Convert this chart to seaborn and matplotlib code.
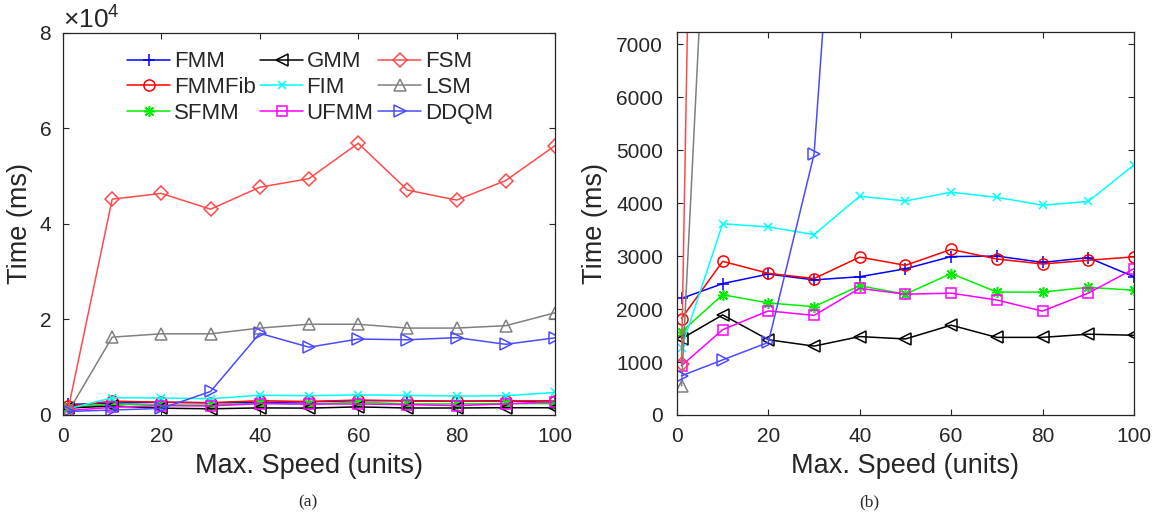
import matplotlib
matplotlib.use("Agg")
import matplotlib.pyplot as plt
import pandas as pd
import seaborn as sns
from matplotlib.ticker import ScalarFormatter, MultipleLocator

# Maximum agent speed (units)
speed = [1, 10, 20, 30, 40, 50, 60, 70, 80, 90, 100]

# Running time (ms) per method
fmm    = [2200, 2480, 2660, 2550, 2610, 2760, 2990, 3000, 2880, 2970, 2610]
fmmfib = [1820, 2900, 2675, 2575, 2980, 2825, 3125, 2945, 2850, 2920, 2985]
sfmm   = [1570, 2270, 2115, 2045, 2440, 2280, 2670, 2320, 2320, 2410, 2355]
gmm    = [1440, 1890, 1420, 1300, 1480, 1435, 1695, 1465, 1465, 1525, 1505]
fim    = [1270, 3610, 3550, 3405, 4130, 4040, 4205, 4110, 3960, 4030, 4720]
ufmm   = [930, 1610, 1965, 1880, 2390, 2280, 2300, 2170, 1960, 2300, 2760]
fsm    = [960, 45200, 46400, 43100, 47700, 49500, 56900, 47100, 45000, 49100, 56400]
lsm    = [550, 16300, 17000, 17000, 18200, 19000, 19000, 18200, 18200, 18700, 21400]
ddqm   = [740, 1040, 1370, 4920, 17100, 14200, 15900, 15750, 16200, 14800, 16150]

methods = ["FMM", "FMMFib", "SFMM", "GMM", "FIM", "UFMM", "FSM", "LSM", "DDQM"]
series = [fmm, fmmfib, sfmm, gmm, fim, ufmm, fsm, lsm, ddqm]

styles = {
    "FMM":    dict(color="#0000ff", marker="+", ms=9),
    "FMMFib": dict(color="#ff0000", marker="o", ms=8),
    "SFMM":   dict(color="#00ee00", marker=(8, 2, 0), ms=8),
    "GMM":    dict(color="#000000", marker="<", ms=9),
    "FIM":    dict(color="#00ffff", marker="x", ms=6),
    "UFMM":   dict(color="#ff00ff", marker="s", ms=7),
    "FSM":    dict(color="#ff4a4a", marker="D", ms=7),
    "LSM":    dict(color="#808080", marker="^", ms=9),
    "DDQM":   dict(color="#4a4aff", marker=">", ms=9),
}

df = pd.concat(
    [pd.DataFrame({"speed": speed, "time": vals, "method": name})
     for name, vals in zip(methods, series)],
    ignore_index=True,
)

sns.set_style("ticks")
plt.rcParams["font.family"] = ["Liberation Sans", "DejaVu Sans"]
plt.rcParams["mathtext.fontset"] = "custom"
plt.rcParams["mathtext.rm"] = "Liberation Sans"
plt.rcParams["mathtext.it"] = "Liberation Sans:italic"

fig = plt.figure(figsize=(11.56, 5.21), dpi=100)
ax_a = fig.add_axes([0.0545, 0.2035, 0.4256, 0.7332])
ax_b = fig.add_axes([0.5856, 0.2035, 0.3953, 0.7351])

edge = "#262626"

for ax in (ax_a, ax_b):
    for name in methods:
        st = styles[name]
        sub = df[df["method"] == name]
        sns.lineplot(
            data=sub, x="speed", y="time", ax=ax, label=name,
            color=st["color"], marker=st["marker"], markersize=st["ms"],
            markerfacecolor="none", markeredgecolor=st["color"],
            markeredgewidth=1.1, linewidth=1.1, legend=False,
            clip_on=True,
        )
    ax.set_xlim(0, 100)
    ax.xaxis.set_major_locator(MultipleLocator(20))
    ax.set_xlabel("Max. Speed (units)", fontsize=19.5, color=edge, labelpad=5)
    ax.tick_params(direction="in", top=True, right=True, length=4.5,
                   width=0.8, labelsize=15, colors=edge)
    ax.tick_params(axis="x", pad=9)
    for sp in ax.spines.values():
        sp.set_visible(True)
        sp.set_color(edge)
        sp.set_linewidth(0.9)

ax_a.tick_params(axis="y", pad=8)
ax_b.tick_params(axis="y", pad=10)
ax_a.set_ylabel("Time (ms)", fontsize=19.5, color=edge, labelpad=4)
ax_b.set_ylabel("Time (ms)", fontsize=19.5, color=edge, labelpad=6)

# Panel (a): full range with scientific offset
ax_a.set_ylim(0, 80000)
ax_a.yaxis.set_major_locator(MultipleLocator(20000))
fmt = ScalarFormatter(useMathText=True)
fmt.set_powerlimits((0, 0))
ax_a.yaxis.set_major_formatter(fmt)
ax_a.yaxis.get_offset_text().set_fontsize(19)
ax_a.yaxis.get_offset_text().set_color(edge)

handles, labels = ax_a.get_legend_handles_labels()
ax_a.legend(handles, labels, ncol=3, frameon=False, fontsize=16,
            loc="upper left", bbox_to_anchor=(0.13, 0.952),
            borderaxespad=0, borderpad=0, handlelength=1.95,
            handletextpad=0.15, columnspacing=0.2, labelspacing=0.22,
            numpoints=1)

# Panel (b): zoom on the lower range
ax_b.set_ylim(0, 7230)
ax_b.yaxis.set_major_locator(MultipleLocator(1000))

fig.text(0.2665, 0.036, "(a)", fontsize=12.5, family="Liberation Serif",
         ha="center", va="center")
fig.text(0.752, 0.036, "(b)", fontsize=12.5, family="Liberation Serif",
         ha="center", va="center")

fig.savefig("out.png", dpi=100)
